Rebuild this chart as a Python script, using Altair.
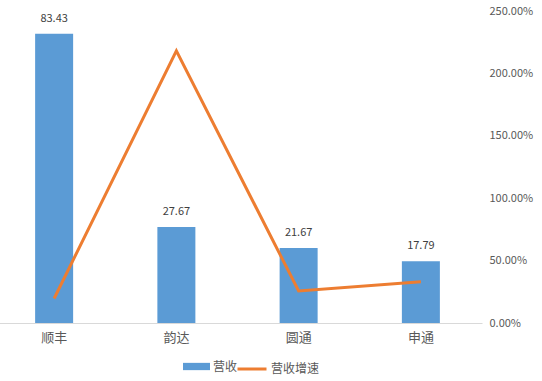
import altair as alt
import pandas as pd

companies = ["顺丰", "韵达", "圆通", "申通"]
revenue = [83.43, 27.67, 21.67, 17.79]
growth = [0.196, 2.18, 0.256, 0.33]
growth_ticks = [0, 0.5, 1.0, 1.5, 2.0, 2.5]

df = pd.DataFrame({
    "company": companies,
    "revenue": revenue,
    "growth": growth,
    "s1": ["营收"] * 4,
    "s2": ["营收增速"] * 4,
})

FONT = "Noto Sans CJK SC"

x = alt.X(
    "company:N",
    sort=companies,
    title=None,
    scale=alt.Scale(range=[-7, 482], paddingInner=0, paddingOuter=0),
    axis=alt.Axis(labelAngle=0, labelFontSize=13, labelColor="#595959", labelPadding=8,
                  ticks=False, domainColor="#d9d9d9", domainWidth=1, labelFont=FONT),
)

base = alt.Chart(df)

bars = base.mark_bar(size=38).encode(
    x=x,
    y=alt.Y("revenue:Q", scale=alt.Scale(domain=[0, 90]), axis=None),
    color=alt.Color("s1:N", scale=alt.Scale(domain=["营收"], range=["#5b9bd5"]),
                    legend=alt.Legend(title=None, orient="none", legendX=183, legendY=342,
                                      symbolType="M-1,-0.27H1V0.27H-1Z", symbolSize=729,
                                      labelFontSize=12, labelColor="#595959", labelFont=FONT,
                                      labelOffset=3, symbolStrokeWidth=0)),
)

labels = base.mark_text(dy=-15, fontSize=11, color="#404040", font=FONT).encode(
    x=x,
    y=alt.Y("revenue:Q", scale=alt.Scale(domain=[0, 90]), axis=None),
    text=alt.Text("revenue:Q", format=".2f"),
)

line = base.mark_line(strokeWidth=3).encode(
    x=x,
    y=alt.Y("growth:Q", scale=alt.Scale(domain=[0, 2.5]),
            axis=alt.Axis(orient="right", format=".2%", values=growth_ticks, title=None,
                          ticks=False, domain=False, grid=False, labelPadding=7,
                          labelFontSize=11, labelColor="#595959", labelFont=FONT)),
    stroke=alt.Stroke("s2:N", scale=alt.Scale(domain=["营收增速"], range=["#ed7d31"]),
                      legend=alt.Legend(title=None, orient="none", legendX=236, legendY=342,
                                        symbolType="stroke", symbolSize=841, symbolStrokeWidth=3,
                                        labelFontSize=12, labelColor="#595959", labelFont=FONT,
                                        labelOffset=3)),
)

left = alt.layer(bars, labels)
chart = alt.layer(left, line).resolve_scale(y="independent", color="independent").properties(
    width=482, height=312,
    padding={"left": 0, "top": 11, "right": 60, "bottom": 58},
    autosize=alt.AutoSizeParams(type="none"),
    background="white",
).configure_view(stroke=None).configure_axis(grid=False)

chart.save("out.html", embed_options={"renderer": "svg", "actions": False})
